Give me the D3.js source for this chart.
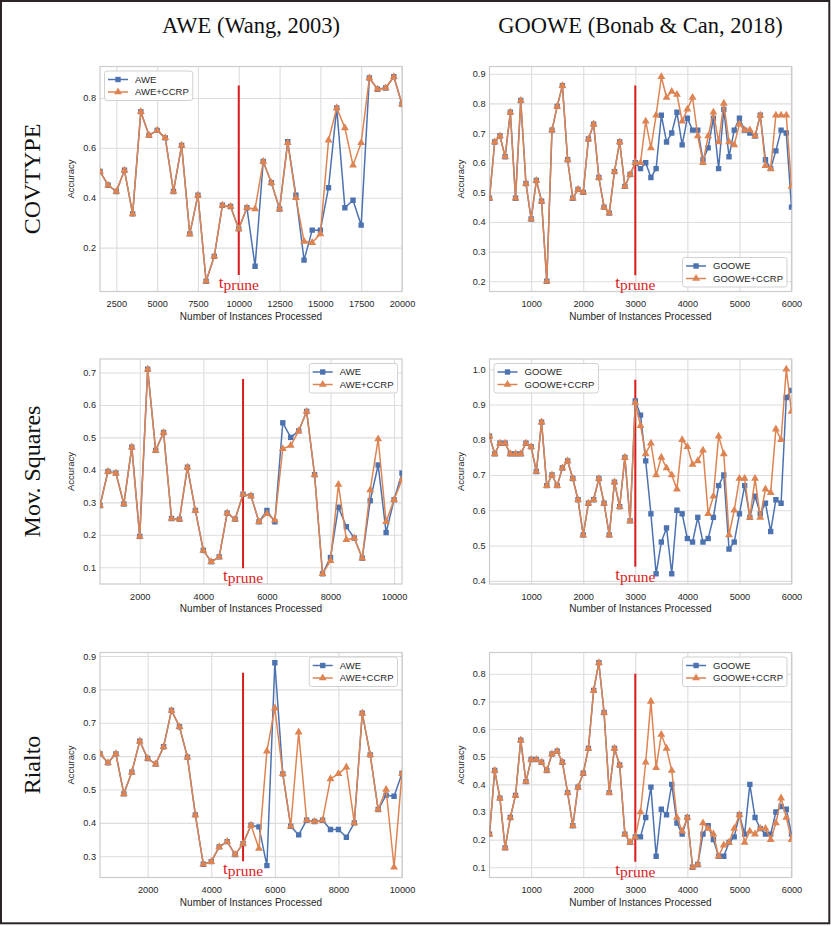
<!DOCTYPE html>
<html>
<head>
<meta charset="utf-8">
<script src="https://cdn.jsdelivr.net/npm/d3@7"></script>
<style>
  body { margin: 0; background: #fff; }
  svg { display: block; }
  .tick text { font-family: "Liberation Sans", Arial, sans-serif; font-size: 9.2px; fill: #262626; }
</style>
</head>
<body>
<svg id="fig" width="831" height="926"></svg>
<script>
// ---- data: accuracy ----
const aweNames = ['AWE', 'AWE+CCRP'];
const gooweNames = ['GOOWE', 'GOOWE+CCRP'];
const colTitles = ['AWE (Wang, 2003)', 'GOOWE (Bonab & Can, 2018)'];
const rowTitles = ['COVTYPE', 'Mov. Squares', 'Rialto'];

// instance checkpoints
const covAweX = d3.range(1500, 20001, 500);
const sqAweX = d3.range(750, 10251, 250);
const riAweX = d3.range(500, 10001, 250);
const gooweX = d3.range(200, 6001, 100);

// COVTYPE
const covAwe = [0.505, 0.45, 0.425, 0.51, 0.335, 0.745, 0.65, 0.67, 0.64, 0.425, 0.61, 0.255, 0.41, 0.065, 0.165, 0.37, 0.365, 0.275,
  0.36, 0.125, 0.545, 0.46, 0.355, 0.625, 0.41, 0.15, 0.27, 0.27, 0.44, 0.76, 0.36, 0.39, 0.29, 0.88, 0.835, 0.84, 0.885, 0.775];
const covAweCcrp = [0.505, 0.45, 0.425, 0.51, 0.335, 0.745, 0.65, 0.67, 0.64, 0.425, 0.61, 0.255, 0.41, 0.065, 0.165, 0.37, 0.365, 0.275,
  0.36, 0.355, 0.545, 0.46, 0.355, 0.62, 0.40, 0.225, 0.22, 0.255, 0.63, 0.76, 0.68, 0.53, 0.62, 0.88, 0.835, 0.84, 0.885, 0.775];
const covGoowe = [0.48, 0.67, 0.69, 0.62, 0.77, 0.48, 0.81, 0.53, 0.41, 0.54, 0.47, 0.20, 0.71, 0.79, 0.86, 0.61, 0.48, 0.51, 0.50, 0.68,
  0.73, 0.55, 0.45, 0.43, 0.57, 0.67, 0.52, 0.56, 0.60,
  0.58, 0.60, 0.55, 0.58, 0.76, 0.67, 0.70, 0.77, 0.66, 0.75, 0.71, 0.71, 0.61, 0.65, 0.75, 0.58, 0.78, 0.62, 0.71, 0.75,
  0.71, 0.70, 0.69, 0.76, 0.61, 0.58, 0.64, 0.71, 0.70, 0.45];
const covGooweCcrp = [0.48, 0.67, 0.69, 0.62, 0.77, 0.48, 0.81, 0.53, 0.41, 0.54, 0.47, 0.20, 0.71, 0.79, 0.86, 0.61, 0.48, 0.51, 0.50, 0.68,
  0.73, 0.55, 0.45, 0.43, 0.57, 0.67, 0.52, 0.56, 0.60,
  0.60, 0.74, 0.65, 0.76, 0.89, 0.82, 0.84, 0.83, 0.74, 0.78, 0.82, 0.69, 0.60, 0.69, 0.77, 0.67, 0.80, 0.67, 0.66, 0.73,
  0.71, 0.71, 0.69, 0.76, 0.59, 0.58, 0.76, 0.76, 0.76, 0.52];

// Mov. Squares
const sqAwe = [0.29, 0.395, 0.39, 0.295, 0.47, 0.195, 0.71, 0.46, 0.515, 0.25, 0.248, 0.408, 0.275, 0.152, 0.117, 0.132, 0.267, 0.248,
  0.325, 0.32, 0.24, 0.275, 0.24, 0.545, 0.50, 0.52, 0.58, 0.385, 0.08, 0.13, 0.285, 0.225, 0.19, 0.128, 0.305, 0.415, 0.207, 0.308, 0.39];
const sqAweCcrp = [0.29, 0.395, 0.39, 0.295, 0.47, 0.195, 0.71, 0.46, 0.515, 0.25, 0.248, 0.408, 0.275, 0.152, 0.117, 0.132, 0.267, 0.248,
  0.325, 0.32, 0.24, 0.265, 0.245, 0.465, 0.475, 0.52, 0.58, 0.385, 0.08, 0.12, 0.355, 0.185, 0.19, 0.128, 0.338, 0.495, 0.24, 0.308, 0.37];
const sqGoowe = [0.81, 0.76, 0.79, 0.79, 0.76, 0.76, 0.76, 0.79, 0.78, 0.71, 0.85, 0.67, 0.70, 0.67, 0.72, 0.74, 0.69, 0.63, 0.53, 0.62,
  0.63, 0.69, 0.62, 0.53, 0.68, 0.61, 0.75, 0.57, 0.91,
  0.87, 0.74, 0.59, 0.42, 0.51, 0.55, 0.42, 0.60, 0.59, 0.52, 0.51, 0.58, 0.51, 0.52, 0.58, 0.67, 0.70, 0.49, 0.51, 0.59,
  0.67, 0.58, 0.64, 0.59, 0.62, 0.54, 0.63, 0.62, 0.92, 0.94];
const sqGooweCcrp = [0.81, 0.76, 0.79, 0.79, 0.76, 0.76, 0.76, 0.79, 0.78, 0.71, 0.85, 0.67, 0.70, 0.67, 0.72, 0.74, 0.69, 0.63, 0.53, 0.62,
  0.63, 0.69, 0.62, 0.53, 0.68, 0.61, 0.75, 0.57, 0.905,
  0.84, 0.76, 0.79, 0.70, 0.75, 0.72, 0.70, 0.66, 0.80, 0.78, 0.73, 0.74, 0.77, 0.59, 0.64, 0.81, 0.76, 0.53, 0.60, 0.69,
  0.69, 0.58, 0.69, 0.58, 0.66, 0.65, 0.83, 0.80, 1.00, 0.88];

// Rialto
const riAwe = [0.607, 0.58, 0.607, 0.487, 0.552, 0.645, 0.593, 0.576, 0.628, 0.737, 0.688, 0.597, 0.424, 0.276, 0.284, 0.328, 0.344, 0.305,
  0.338, 0.393, 0.388, 0.272, 0.88, 0.547, 0.39, 0.364, 0.408, 0.404, 0.408, 0.38, 0.38, 0.357, 0.40, 0.729, 0.604, 0.44, 0.483, 0.48, 0.548];
const riAweCcrp = [0.607, 0.58, 0.607, 0.487, 0.552, 0.645, 0.593, 0.576, 0.628, 0.737, 0.688, 0.597, 0.424, 0.276, 0.284, 0.328, 0.344, 0.305,
  0.338, 0.393, 0.323, 0.615, 0.744, 0.547, 0.39, 0.672, 0.408, 0.404, 0.408, 0.532, 0.547, 0.567, 0.40, 0.729, 0.604, 0.44, 0.50, 0.267, 0.548];
const riGoowe = [0.22, 0.45, 0.35, 0.17, 0.28, 0.36, 0.56, 0.41, 0.49, 0.49, 0.48, 0.45, 0.51, 0.52, 0.48, 0.37, 0.25, 0.39, 0.44, 0.53,
  0.74, 0.84, 0.66, 0.37, 0.53, 0.47, 0.22, 0.19, 0.21,
  0.21, 0.28, 0.39, 0.14, 0.31, 0.29, 0.40, 0.26, 0.22, 0.28, 0.10, 0.11, 0.22, 0.25, 0.20, 0.14, 0.14, 0.19, 0.21, 0.29,
  0.22, 0.40, 0.28, 0.24, 0.22, 0.22, 0.30, 0.32, 0.31, 0.22];
const riGooweCcrp = [0.22, 0.45, 0.35, 0.17, 0.28, 0.36, 0.56, 0.41, 0.49, 0.49, 0.48, 0.45, 0.51, 0.52, 0.48, 0.37, 0.25, 0.39, 0.44, 0.53,
  0.74, 0.84, 0.66, 0.37, 0.53, 0.47, 0.22, 0.19, 0.21,
  0.30, 0.48, 0.70, 0.46, 0.58, 0.53, 0.45, 0.28, 0.23, 0.28, 0.10, 0.11, 0.26, 0.24, 0.22, 0.14, 0.18, 0.19, 0.24, 0.29,
  0.19, 0.23, 0.22, 0.24, 0.24, 0.20, 0.26, 0.35, 0.28, 0.20];

// ticks
const covAweXTicks = [2500, 5000, 7500, 10000, 12500, 15000, 17500, 20000];
const awe10kXTicks = [2000, 4000, 6000, 8000, 10000];
const gooweXTicks = [1000, 2000, 3000, 4000, 5000, 6000];
const covAweYTicks = [0.2, 0.4, 0.6, 0.8];
const covGooweYTicks = [0.2, 0.3, 0.4, 0.5, 0.6, 0.7, 0.8, 0.9];
const sqAweYTicks = [0.1, 0.2, 0.3, 0.4, 0.5, 0.6, 0.7];
const sqGooweYTicks = [0.4, 0.5, 0.6, 0.7, 0.8, 0.9, 1.0];
const riAweYTicks = [0.3, 0.4, 0.5, 0.6, 0.7, 0.8, 0.9];
const riGooweYTicks = [0.1, 0.2, 0.3, 0.4, 0.5, 0.6, 0.7, 0.8];

// pruning marker: [instances, accuracy from, accuracy to]
const covAwePrune = [10000, 0.09, 0.85];
const covGoowePrune = [3000, 0.22, 0.86];
const sqAwePrune = [5250, 0.097, 0.68];
const sqGoowePrune = [3000, 0.44, 0.97];
const riAwePrune = [5000, 0.285, 0.85];
const riGoowePrune = [3000, 0.12, 0.80];

// ---- layout ----
const BLUE = '#4c72b0', ORANGE = '#dd8452', RED = '#dc1c1c';
const SANS = '"Liberation Sans", Arial, sans-serif';
const SERIF = '"Liberation Serif", "Times New Roman", serif';
const COL_LEFT = [100, 489.5];
const ROW_TOP = [66.5, 359, 652.5];
const W = 302, H = 225;

const panels = [
  { row: 0, col: 0, xs: covAweX, a: covAwe, b: covAweCcrp, names: aweNames, xTicks: covAweXTicks, yTicks: covAweYTicks, prune: covAwePrune, legend: 'ul' },
  { row: 0, col: 1, xs: gooweX, a: covGoowe, b: covGooweCcrp, names: gooweNames, xTicks: gooweXTicks, yTicks: covGooweYTicks, prune: covGoowePrune, legend: 'lr' },
  { row: 1, col: 0, xs: sqAweX, a: sqAwe, b: sqAweCcrp, names: aweNames, xTicks: awe10kXTicks, yTicks: sqAweYTicks, prune: sqAwePrune, legend: 'ur' },
  { row: 1, col: 1, xs: gooweX, a: sqGoowe, b: sqGooweCcrp, names: gooweNames, xTicks: gooweXTicks, yTicks: sqGooweYTicks, prune: sqGoowePrune, legend: 'ul' },
  { row: 2, col: 0, xs: riAweX, a: riAwe, b: riAweCcrp, names: aweNames, xTicks: awe10kXTicks, yTicks: riAweYTicks, prune: riAwePrune, legend: 'ur' },
  { row: 2, col: 1, xs: gooweX, a: riGoowe, b: riGooweCcrp, names: gooweNames, xTicks: gooweXTicks, yTicks: riGooweYTicks, prune: riGoowePrune, legend: 'ur' },
];

const svg = d3.select('#fig');
svg.append('rect').attr('width', 831).attr('height', 926).attr('fill', '#fff');

const square = d3.symbol().type(d3.symbolSquare).size(29)();
const triangle = d3.symbol().type(d3.symbolTriangle).size(27)();

// column and row titles
colTitles.forEach((t, i) => {
  svg.append('text')
    .attr('x', COL_LEFT[i] + W / 2).attr('y', 32.5)
    .attr('text-anchor', 'middle')
    .attr('font-family', SERIF).attr('font-size', 22.5).attr('fill', '#111')
    .text(t);
});
rowTitles.forEach((t, i) => {
  svg.append('text')
    .attr('transform', `translate(40,${ROW_TOP[i] + H / 2}) rotate(-90)`)
    .attr('text-anchor', 'middle')
    .attr('font-family', SERIF).attr('font-size', 24).attr('fill', '#111')
    .text(t);
});

panels.forEach((p, k) => {
  const g = svg.append('g')
    .attr('transform', `translate(${COL_LEFT[p.col]},${ROW_TOP[p.row]})`);

  const x = d3.scaleLinear().domain([p.xs[0], p.xs[p.xs.length - 1]]).range([0, W]);
  const ext = d3.extent(p.a.concat(p.b));
  const pad = (ext[1] - ext[0]) * 0.05;
  const y = d3.scaleLinear().domain([ext[0] - pad, ext[1] + pad]).range([H, 0]);

  // grid + tick labels
  g.append('g')
    .attr('transform', `translate(0,${H})`)
    .call(d3.axisBottom(x).tickValues(p.xTicks).tickSize(-H).tickPadding(9).tickFormat(d3.format('d')))
    .call(s => {
      s.select('.domain').remove();
      s.selectAll('.tick line').attr('stroke', '#dddddd').attr('stroke-width', 1.1);
    });
  g.append('g')
    .call(d3.axisLeft(y).tickValues(p.yTicks).tickSize(-W).tickPadding(4).tickFormat(d3.format('.1f')))
    .call(s => {
      s.select('.domain').remove();
      s.selectAll('.tick line').attr('stroke', '#dddddd').attr('stroke-width', 1.1);
    });

  g.append('rect')
    .attr('width', W).attr('height', H)
    .attr('fill', 'none').attr('stroke', '#cccccc').attr('stroke-width', 1.2);

  // axis labels
  g.append('text')
    .attr('x', W / 2).attr('y', H + 28)
    .attr('text-anchor', 'middle')
    .attr('font-family', SANS).attr('font-size', 10).attr('fill', '#262626')
    .text('Number of Instances Processed');
  g.append('text')
    .attr('transform', `translate(-26,${H / 2}) rotate(-90)`)
    .attr('text-anchor', 'middle')
    .attr('font-family', SANS).attr('font-size', 9.5).attr('fill', '#262626')
    .text('Accuracy');

  const clipId = `clip${k}`;
  g.append('clipPath').attr('id', clipId)
    .append('rect').attr('width', W).attr('height', H);
  const plot = g.append('g').attr('clip-path', `url(#${clipId})`);

  // pruning time
  const px = x(p.prune[0]);
  plot.append('line')
    .attr('x1', px).attr('x2', px)
    .attr('y1', y(p.prune[1])).attr('y2', y(p.prune[2]))
    .attr('stroke', RED).attr('stroke-width', 2);

  const line = d3.line().x((d, i) => x(p.xs[i])).y(d => y(d));
  [[p.a, BLUE, square], [p.b, ORANGE, triangle]].forEach(([vals, color, shape]) => {
    plot.append('path')
      .attr('d', line(vals))
      .attr('fill', 'none').attr('stroke', color).attr('stroke-width', 1.5)
      .attr('stroke-linejoin', 'round');
    plot.selectAll(null)
      .data(vals)
      .enter()
      .append('path')
      .attr('d', shape)
      .attr('transform', (d, i) => `translate(${x(p.xs[i])},${y(d)})`)
      .attr('fill', color);
  });

  const lab = g.append('text')
    .attr('x', px).attr('y', y(p.prune[1]) + 13)
    .attr('text-anchor', 'middle')
    .attr('font-family', SERIF).attr('fill', RED);
  lab.append('tspan').attr('font-size', 17).text('t');
  lab.append('tspan').attr('font-size', 15.5).attr('dy', 2).text('prune');

  // legend
  const leg = g.append('g');
  const box = leg.append('rect')
    .attr('rx', 2.5)
    .attr('fill', '#fff').attr('fill-opacity', 0.85)
    .attr('stroke', '#cccccc').attr('stroke-width', 0.9);
  let textW = 0;
  [[BLUE, square], [ORANGE, triangle]].forEach(([color, shape], i) => {
    const cy = 8.5 + i * 12.5;
    leg.append('line')
      .attr('x1', 3.5).attr('x2', 23.5).attr('y1', cy).attr('y2', cy)
      .attr('stroke', color).attr('stroke-width', 1.5);
    leg.append('path').attr('d', shape)
      .attr('transform', `translate(13.5,${cy})`).attr('fill', color);
    const t = leg.append('text')
      .attr('x', 30.5).attr('y', cy + 3.4)
      .attr('font-family', SANS).attr('font-size', 9.5).attr('fill', '#262626')
      .text(p.names[i]);
    textW = Math.max(textW, t.node().getComputedTextLength());
  });
  const bw = textW + 34.5, bh = 29.5, inset = 4.5;
  box.attr('width', bw).attr('height', bh);
  const lx = p.legend === 'ul' ? inset : W - inset - bw;
  const ly = p.legend === 'lr' ? H - inset - bh : inset;
  leg.attr('transform', `translate(${lx},${ly})`);
});

// figure frame
svg.append('rect')
  .attr('x', 1).attr('y', 1).attr('width', 828.3).attr('height', 922.3)
  .attr('fill', 'none').attr('stroke', '#2b2424').attr('stroke-width', 2);
</script>
</body>
</html>
